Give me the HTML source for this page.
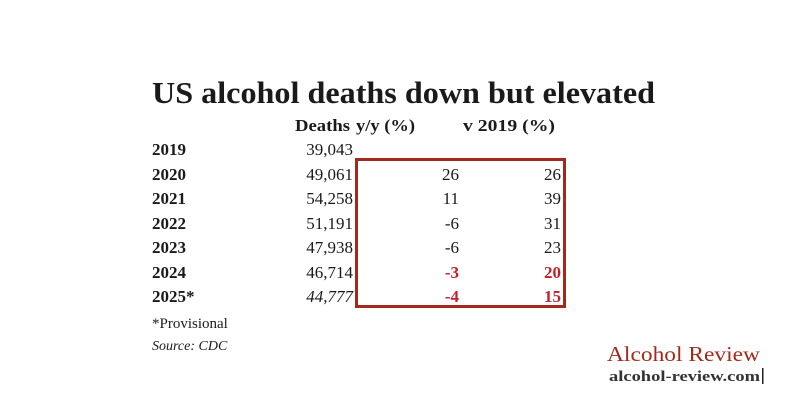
<!DOCTYPE html>
<html><head><meta charset="utf-8"><style>
html,body{margin:0;padding:0;background:#fff;}
svg{display:block}
text{font-family:"Liberation Serif",serif;fill:#1a1a1a}
</style></head><body>
<svg width="800" height="418" viewBox="0 0 800 418">
<text x="152" y="103" font-size="31" font-weight="bold" textLength="503" lengthAdjust="spacingAndGlyphs">US alcohol deaths down but elevated</text>
<g font-size="17">
<text x="295" y="131" font-weight="bold" textLength="55" lengthAdjust="spacingAndGlyphs">Deaths</text>
<text x="356" y="131" font-weight="bold" textLength="59" lengthAdjust="spacingAndGlyphs">y/y (%)</text>
<text x="463" y="131" font-weight="bold" textLength="92" lengthAdjust="spacingAndGlyphs">v 2019 (%)</text>
</g>
<g font-size="17" font-weight="bold">
<text x="152" y="155">2019</text>
<text x="152" y="180">2020</text>
<text x="152" y="204">2021</text>
<text x="152" y="229">2022</text>
<text x="152" y="253">2023</text>
<text x="152" y="278">2024</text>
<text x="152" y="302">2025*</text>
</g>
<g font-size="17" text-anchor="end">
<text x="353" y="155">39,043</text>
<text x="353" y="180">49,061</text>
<text x="353" y="204">54,258</text>
<text x="353" y="229">51,191</text>
<text x="353" y="253">47,938</text>
<text x="353" y="278">46,714</text>
<text x="353" y="302" font-style="italic">44,777</text>
</g>
<g font-size="17" text-anchor="end">
<text x="459" y="180">26</text><text x="561" y="180">26</text>
<text x="459" y="204">11</text><text x="561" y="204">39</text>
<text x="459" y="229">-6</text><text x="561" y="229">31</text>
<text x="459" y="253">-6</text><text x="561" y="253">23</text>
<text x="459" y="278" font-weight="bold" style="fill:#c4202a">-3</text><text x="561" y="278" font-weight="bold" style="fill:#c4202a">20</text>
<text x="459" y="302" font-weight="bold" style="fill:#c4202a">-4</text><text x="561" y="302" font-weight="bold" style="fill:#c4202a">15</text>
</g>
<rect x="356.5" y="159.5" width="208" height="147" fill="none" stroke="#a3291c" stroke-width="3"/>
<text x="152" y="328" font-size="15">*Provisional</text>
<text x="152" y="350" font-size="14" font-style="italic">Source: CDC</text>
<text x="607" y="361" font-size="21" style="fill:#a3291c" textLength="153" lengthAdjust="spacingAndGlyphs">Alcohol Review</text>
<text x="609" y="381" font-size="15" font-weight="bold" style="fill:#333" textLength="151" lengthAdjust="spacingAndGlyphs">alcohol-review.com</text>
<rect x="762" y="368" width="1.5" height="16" fill="#222"/>
</svg>
</body></html>
